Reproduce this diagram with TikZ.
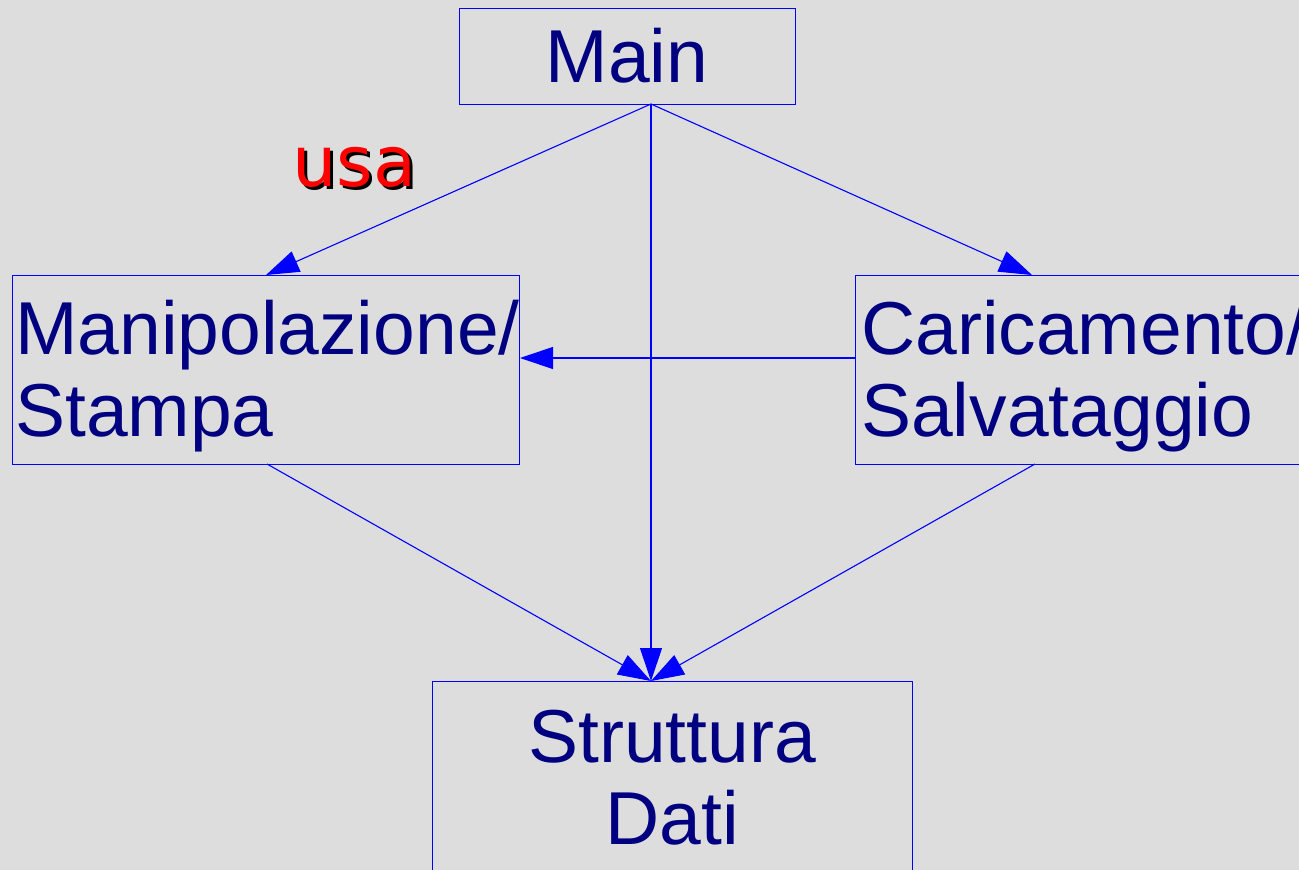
\documentclass[tikz,border=0pt]{standalone}
\usepackage{fontspec}
\setmainfont{Liberation Sans}
\newfontfamily\usafont{DejaVu Sans}
\usetikzlibrary{arrows.meta}
\definecolor{bg}{HTML}{DDDDDD}
\definecolor{navy}{HTML}{000080}
\definecolor{lineblue}{HTML}{0000FF}
\begin{document}
\begin{tikzpicture}[x=1pt,y=-1pt,
  box/.style={draw=lineblue, line width=1pt, inner sep=0pt, anchor=north west},
  lbl/.style={text=navy, font=\fontsize{75}{82}\selectfont, inner sep=0pt, anchor=base west},
  usastyle/.style={font=\usafont\fontsize{70}{84}\selectfont, inner sep=0pt, anchor=base west},
  arr/.style={draw=lineblue, line width=1.1pt, -{Triangle[length=33pt,width=22pt]}}]
\useasboundingbox (0,0) rectangle (1299,870);
\fill[bg] (0,0) rectangle (1299,870);
\clip (0,0) rectangle (1299,870);

% boxes
\node[box, minimum width=336pt, minimum height=96pt] (main) at (459,8) {};
\node[box, minimum width=507pt, minimum height=189pt] (manip) at (12,275) {};
\node[box, minimum width=480pt, minimum height=189pt] (caric) at (855,275) {};
\node[box, minimum width=480pt, minimum height=230pt] (strut) at (432,681) {};

% texts
\node[lbl, anchor=base] (mainT) at (627,82) {Main};
\node[lbl] (manipA) at (15,354) {Manipolazione/};
\node[lbl] (manipB) at (15,436) {Stampa};
\node[lbl] (caricA) at (861,354) {Caricamento/};
\node[lbl] (caricB) at (861,436) {Salvataggio};
\node[lbl, anchor=base] (strutA) at (672,762) {Struttura};
\node[lbl, anchor=base] (strutB) at (672,844) {Dati};

% label usa with its shadow
\node[usastyle, text=red] (usa) at (292,186)
  {\rlap{\hspace{3pt}\raisebox{-3pt}{\color{black}usa}}usa};

% connector points
\coordinate (mo) at (651,104);
\coordinate (si) at (651,681);
\coordinate (ci) at (1032,275);
\coordinate (cl) at (855,358);
\coordinate (mb) at (267,464);
\coordinate (cb) at (1035,464);

% connectors
\draw[arr] (mo) -- (manip.north);
\draw[arr] (mo) -- (ci);
\draw[arr] (mo) -- (si);
\draw[arr] (cl) -- (manip.east |- cl);
\draw[arr] (mb) -- (si);
\draw[arr] (cb) -- (si);
\end{tikzpicture}
\end{document}
